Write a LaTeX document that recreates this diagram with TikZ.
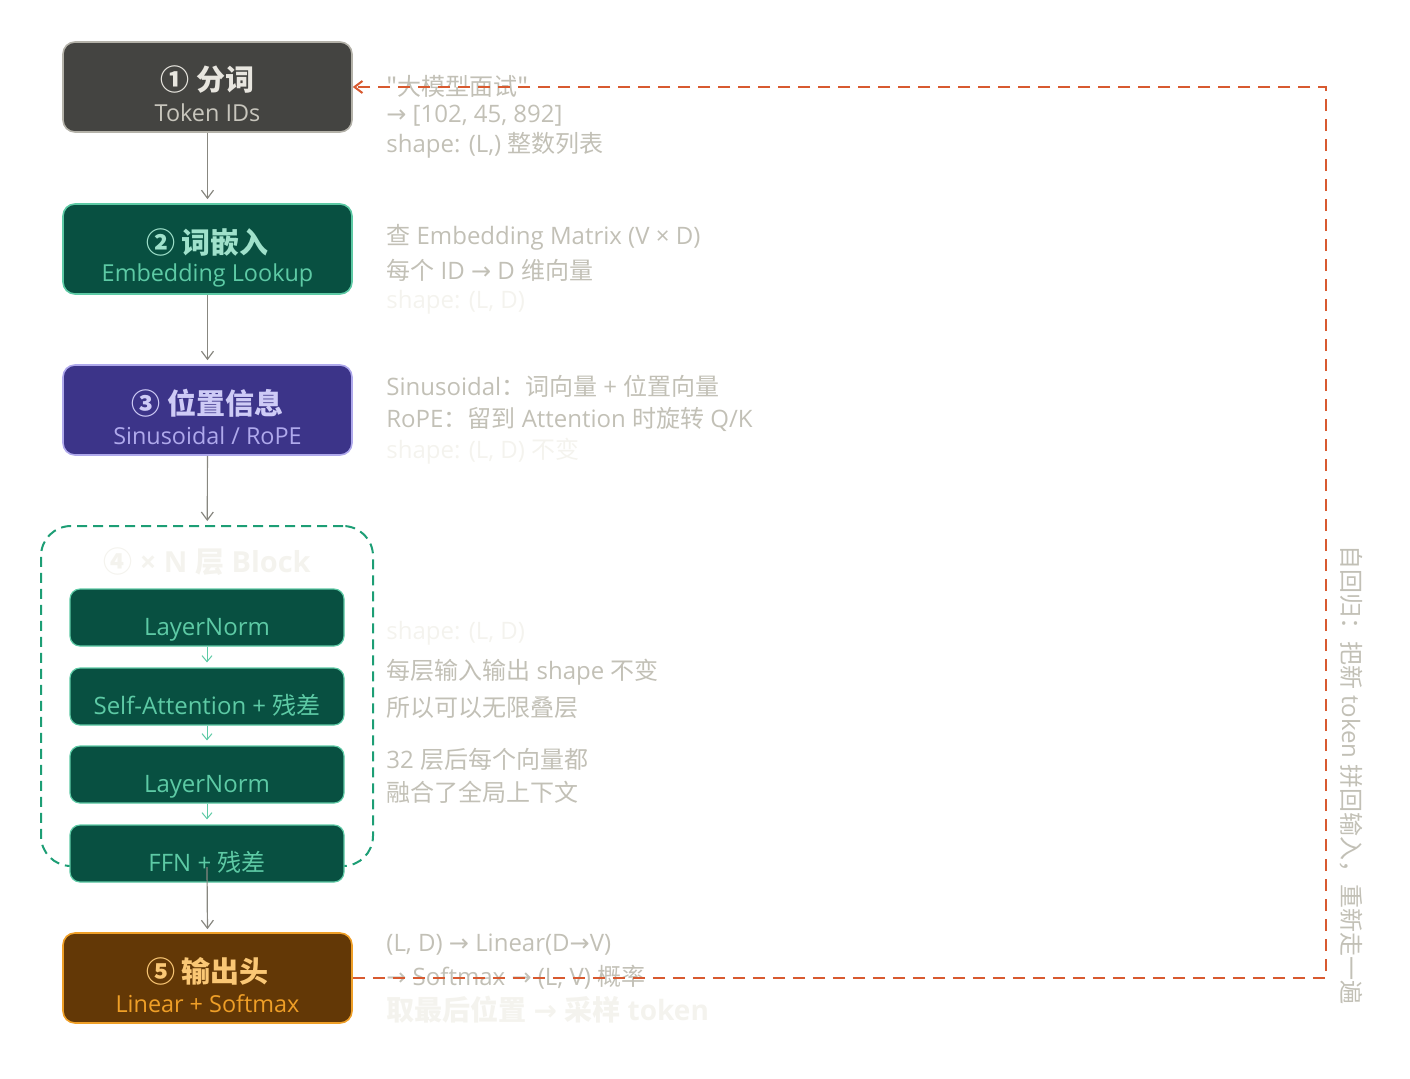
\documentclass[tikz,border=0pt]{standalone}
\usepackage{fontspec}
\setmainfont{Open Sans}
\newfontfamily\zhfont{Noto Sans CJK SC}
\newfontfamily\arrowfont{DejaVu Sans}
\newcommand{\zh}[1]{{\zhfont #1}}
\newcommand{\ar}{{\arrowfont →}}
\usetikzlibrary{arrows.meta,positioning}

% Farben
\definecolor{grayfill}{HTML}{444441}
\definecolor{grayline}{HTML}{B4B2A9}
\definecolor{graytitle}{HTML}{E8E6DF}
\definecolor{graysub}{HTML}{C8C6BD}
\definecolor{tealfill}{HTML}{085041}
\definecolor{tealline}{HTML}{5DCAA5}
\definecolor{tealtitle}{HTML}{9FE1CB}
\definecolor{purplefill}{HTML}{3C3489}
\definecolor{purpleline}{HTML}{AFA9EC}
\definecolor{purpletitle}{HTML}{CECBF6}
\definecolor{amberfill}{HTML}{633806}
\definecolor{amberline}{HTML}{EF9F27}
\definecolor{ambertitle}{HTML}{FAC775}
\definecolor{notegray}{HTML}{C2C0B6}
\definecolor{notefaint}{HTML}{F4F3EE}
\definecolor{loopred}{HTML}{D85A30}
\definecolor{blockgreen}{HTML}{1D9E75}
\definecolor{arrowgray}{HTML}{888780}

\tikzset{
  stage/.style={draw, line width=0.8pt, rounded corners=6pt,
    minimum width=144.5pt, minimum height=45pt, inner sep=0pt},
  stagetitle/.style={inner sep=0pt, font=\fontsize{14.5}{16}\selectfont\bfseries},
  stagesub/.style={inner sep=0pt, font=\fontsize{11.7}{13}\selectfont},
  layerbox/.style={draw=tealline, fill=tealfill, line width=0.6pt, rounded corners=5pt,
    minimum width=137pt, minimum height=28.5pt, text=tealline,
    text height=18pt, text depth=0pt, font=\fontsize{12}{14}\selectfont},
  note/.style={anchor=west, inner sep=0pt, text=notegray, font=\fontsize{12}{14}\selectfont},
  faint/.style={note, text=notefaint},
  flow/.style={-{Straight Barb[length=4pt,width=6pt]}, draw=arrowgray, line width=0.6pt},
  layerflow/.style={-{Straight Barb[length=3pt,width=5pt]}, draw=tealline, line width=0.5pt},
  feedback/.style={-{Straight Barb[length=4pt,width=6pt]}, draw=loopred, line width=1pt,
    dash pattern=on 6pt off 4pt},
}

\begin{document}
\begin{tikzpicture}[x=0.5pt,y=-0.5pt]
    \useasboundingbox (0,0) rectangle (1410,1078);

    % Stufen links
    \node[stage, fill=grayfill, draw=grayline] (tok) at (207.5,87) {};
    \node[stagetitle, text=graytitle] (tok-t) at (207.5,80) {\zh{① 分词}};
    \node[stagesub, text=graysub] (tok-s) at (207.5,113) {Token IDs};

    \node[stage, fill=tealfill, draw=tealline] (emb) at (207.5,249) {};
    \node[stagetitle, text=tealtitle] (emb-t) at (207.5,242) {\zh{② 词嵌入}};
    \node[stagesub, text=tealline] (emb-s) at (207.5,275) {Embedding Lookup};

    \node[stage, fill=purplefill, draw=purpleline] (pos) at (207.5,410) {};
    \node[stagetitle, text=purpletitle] (pos-t) at (207.5,403) {\zh{③ 位置信息}};
    \node[stagesub, text=purpleline] (pos-s) at (207.5,436) {Sinusoidal / RoPE};

    % Block mit N Schichten
    \node[draw=blockgreen, line width=1pt, dash pattern=on 5pt off 3pt,
      rounded corners=15pt, minimum width=166pt, minimum height=170pt] (block) at (207,696) {};
    \node[stagetitle, text=notefaint] (block-t) at (207,562) {\zh{④} × N \zh{层} Block};

    \node[layerbox] (ln1) at (207,617.5) {LayerNorm};
    \node[layerbox] (attn) at (207,696.5) {Self-Attention + \zh{残差}};
    \node[layerbox] (ln2) at (207,774.5) {LayerNorm};
    \node[layerbox] (ffn) at (207,853.5) {FFN + \zh{残差}};

    \node[stage, fill=amberfill, draw=amberline] (head) at (207.5,978) {};
    \node[stagetitle, text=ambertitle] (head-t) at (207.5,971) {\zh{⑤ 输出头}};
    \node[stagesub, text=amberline] (head-s) at (207.5,1004) {Linear + Softmax};

    % Pfeile
    \draw[flow, shorten >=2pt] (tok) -- (emb);
    \draw[flow, shorten >=2pt] (emb) -- (pos);
    \draw[flow, shorten >=2pt] (pos) -- (block);
    \draw[flow, shorten >=1.5pt] (block.south) -- (head.north);
    \draw[layerflow, shorten >=2.5pt] (ln1) -- (attn);
    \draw[layerflow, shorten >=2.5pt] (attn) -- (ln2);
    \draw[layerflow, shorten >=2.5pt] (ln2) -- (ffn);

    % Notizen rechts
    \node[note] (n1a) at (386,86) {\zh{"大模型面试"}};
    \node[note] (n1b) at (386,116) {\ar{} [102, 45, 892]};
    \node[note] (n1c) at (386,145) {shape: (L,) \zh{整数列表}};

    \node[note] (n2a) at (386,237) {\zh{查} Embedding Matrix (V × D)};
    \node[note] (n2b) at (386,270) {\zh{每个} ID \ar{} D \zh{维向量}};
    \node[faint] (n2c) at (386,302) {shape: (L, D)};

    \node[note] (n3a) at (386,386) {Sinusoidal\zh{：词向量} + \zh{位置向量}};
    \node[note] (n3b) at (386,419) {RoPE\zh{：留到} Attention \zh{时旋转} Q/K};
    \node[faint] (n3c) at (386,451) {shape: (L, D) \zh{不变}};

    \node[faint] (n4a) at (386,633) {shape: (L, D)};
    \node[note] (n4b) at (386,672) {\zh{每层输入输出} shape \zh{不变}};
    \node[note] (n4c) at (386,708) {\zh{所以可以无限叠层}};
    \node[note] (n4d) at (386,759) {32 \zh{层后每个向量都}};
    \node[note] (n4e) at (386,792) {\zh{融合了全局上下文}};

    \node[note] (n5a) at (386,945) {(L, D) \ar{} Linear(D\ar{}V)};
    \node[note] (n5b) at (386,977) {\ar{} Softmax \ar{} (L, V) \zh{概率}};
    \node[faint, font=\fontsize{14}{16}\selectfont\bfseries] (n5c) at (386,1010) {\zh{取最后位置} \ar{} \zh{采样} token};

    % Rückkopplung
    \coordinate (loopx) at (1326,0);
    \draw[feedback] (head.east) -- (head.east -| loopx) |- (tok.east);
    \node[note, anchor=center, rotate=-90] (loop-label) at (1351,775) {\zh{自回归：把新} token \zh{拼回输入，重新走一遍}};
\end{tikzpicture}
\end{document}
